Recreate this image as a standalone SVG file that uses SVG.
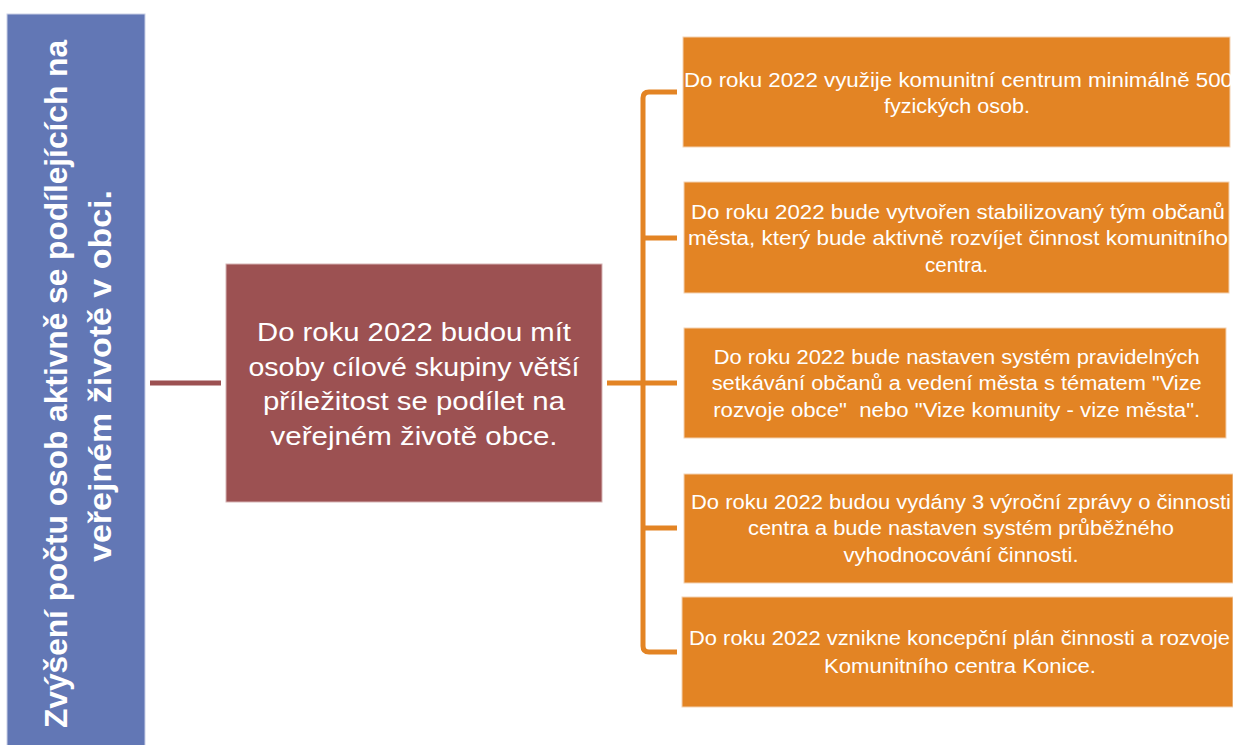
<svg xmlns="http://www.w3.org/2000/svg" width="1233" height="745" viewBox="0 0 1233 745">
<style>
.t{font-family:"Liberation Sans",Arial,sans-serif;fill:#ffffff;text-anchor:middle}
.o{font-size:20px}
.m{font-size:25px}
.b{font-size:31px;font-weight:bold}
.obox{fill:#e38424;stroke:#f3d2b2;stroke-width:1}
.con{fill:none;stroke-width:5}
</style>
<rect width="1233" height="745" fill="#ffffff"/>
<g id="goal">
<rect x="7" y="14" width="138" height="740" fill="#6277b5" stroke="#c9d0e6" stroke-width="1"/>
<text class="t b" transform="translate(67,384) rotate(-90)" textLength="688" lengthAdjust="spacingAndGlyphs">Zvýšení počtu osob aktivně se podílejících na</text>
<text class="t b" transform="translate(111,376) rotate(-90)" textLength="372" lengthAdjust="spacingAndGlyphs">veřejném životě v obci.</text>
</g>
<g id="connectors">
<line class="con" x1="150" y1="383" x2="221" y2="383" stroke="#9c5152"/>
<line class="con" x1="607" y1="383" x2="677" y2="383" stroke="#e38424"/>
<path class="con" d="M677,92 H649 Q643,92 643,98 V646 Q643,652 649,652 H677" stroke="#e38424"/>
<line class="con" x1="643" y1="238" x2="677" y2="238" stroke="#e38424"/>
<line class="con" x1="643" y1="528" x2="677" y2="528" stroke="#e38424"/>
</g>
<g id="objective">
<rect x="226" y="264" width="376" height="238" fill="#9c5152" stroke="#d6b3b3" stroke-width="1"/>
<text class="t m" x="414" y="341" textLength="314" lengthAdjust="spacingAndGlyphs">Do roku 2022 budou mít</text>
<text class="t m" x="414" y="375.5" textLength="331" lengthAdjust="spacingAndGlyphs">osoby cílové skupiny větší</text>
<text class="t m" x="414" y="410" textLength="302" lengthAdjust="spacingAndGlyphs">příležitost se podílet na</text>
<text class="t m" x="414" y="444.5" textLength="287" lengthAdjust="spacingAndGlyphs">veřejném životě obce.</text>
</g>
<g id="target1">
<rect class="obox" x="683" y="37" width="547" height="110"/>
<text class="t o" x="958.5" y="87" textLength="549" lengthAdjust="spacingAndGlyphs">Do roku 2022 využije komunitní centrum minimálně 500</text>
<text class="t o" x="957" y="113" textLength="146" lengthAdjust="spacingAndGlyphs">fyzických osob.</text>
</g>
<g id="target2">
<rect class="obox" x="684" y="182" width="545" height="111"/>
<text class="t o" x="958" y="219" textLength="534" lengthAdjust="spacingAndGlyphs">Do roku 2022 bude vytvořen stabilizovaný tým občanů</text>
<text class="t o" x="958" y="245" textLength="540" lengthAdjust="spacingAndGlyphs">města, který bude aktivně rozvíjet činnost komunitního</text>
<text class="t o" x="956.5" y="272" textLength="63" lengthAdjust="spacingAndGlyphs">centra.</text>
</g>
<g id="target3">
<rect class="obox" x="684" y="328" width="542" height="110"/>
<text class="t o" x="956.7" y="364" textLength="486" lengthAdjust="spacingAndGlyphs">Do roku 2022 bude nastaven systém pravidelných</text>
<text class="t o" x="956.7" y="390" textLength="490" lengthAdjust="spacingAndGlyphs">setkávání občanů a vedení města s tématem "Vize</text>
<text class="t o" x="956.7" y="417" textLength="487" lengthAdjust="spacingAndGlyphs" xml:space="preserve">rozvoje obce"  nebo "Vize komunity - vize města".</text>
</g>
<g id="target4">
<rect class="obox" x="684" y="474" width="549" height="109"/>
<text class="t o" x="961" y="509" textLength="540" lengthAdjust="spacingAndGlyphs">Do roku 2022 budou vydány 3 výroční zprávy o činnosti</text>
<text class="t o" x="961" y="535" textLength="426" lengthAdjust="spacingAndGlyphs">centra a bude nastaven systém průběžného</text>
<text class="t o" x="961" y="562" textLength="235" lengthAdjust="spacingAndGlyphs">vyhodnocování činnosti.</text>
</g>
<g id="target5">
<rect class="obox" x="682" y="597" width="551" height="110"/>
<text class="t o" x="959.5" y="645" textLength="541" lengthAdjust="spacingAndGlyphs">Do roku 2022 vznikne koncepční plán činnosti a rozvoje</text>
<text class="t o" x="960" y="673" textLength="272" lengthAdjust="spacingAndGlyphs">Komunitního centra Konice.</text>
</g>
</svg>
